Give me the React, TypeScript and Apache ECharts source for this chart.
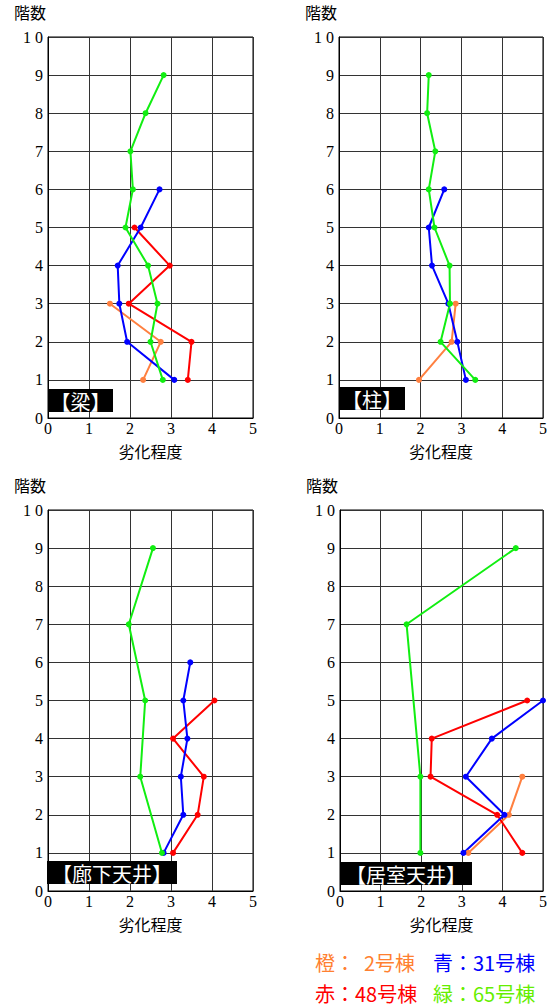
import React, { useEffect, useRef } from "react";
import * as echarts from "echarts";

const floors = [1, 2, 3, 4, 5, 6, 7, 8, 9];
const xTicks = [0, 1, 2, 3, 4, 5];
const panelNames = ["【梁】", "【柱】", "【廊下天井】", "【居室天井】"];
const buildingNames = ["橙：  2号棟", "青：31号棟", "赤：48号棟", "緑：65号棟"];

// values indexed by floor (index 0 = 1階)
const beamOrange = [2.32, 2.75, 1.51];
const beamBlue = [3.08, 1.93, 1.74, 1.70, 2.26, 2.72];
const beamRed = [3.41, 3.50, 1.97, 2.97, 2.11];
const beamGreen = [2.80, 2.50, 2.67, 2.44, 1.89, 2.07, 2.01, 2.38, 2.82];

const columnOrange = [1.96, 2.76, 2.86];
const columnBlue = [3.11, 2.90, 2.68, 2.28, 2.20, 2.58];
const columnRed: (number | null)[] = [];
const columnGreen = [3.34, 2.49, 2.72, 2.71, 2.34, 2.20, 2.36, 2.16, 2.20];

const corridorOrange: (number | null)[] = [];
const corridorBlue = [2.82, 3.30, 3.24, 3.40, 3.30, 3.47];
const corridorRed = [3.05, 3.65, 3.80, 3.05, 4.06];
const corridorGreen = [2.78, null, 2.25, null, 2.37, null, 1.97, null, 2.56];

const roomOrange = [3.16, 4.16, 4.49];
const roomBlue = [3.04, 4.05, 3.10, 3.74, 5.0];
const roomRed = [4.49, 3.87, 2.23, 2.26, 4.61];
const roomGreen = [1.98, null, 1.98, null, null, null, 1.64, null, 4.33];

const panels = [
  [beamOrange, beamBlue, beamRed, beamGreen],
  [columnOrange, columnBlue, columnRed, columnGreen],
  [corridorOrange, corridorBlue, corridorRed, corridorGreen],
  [roomOrange, roomBlue, roomRed, roomGreen],
];

const lineColors = ["#FF8040", "#0000FF", "#FF0000", "#11EE11"];
const legendColors = ["#FF8030", "#0000FF", "#FF0000", "#66EE00"];

const grids = [
  { left: 48, top: 37, width: 205, height: 381 },
  { left: 339, top: 37, width: 204, height: 381 },
  { left: 48, top: 510, width: 205, height: 381 },
  { left: 340, top: 510, width: 203, height: 381 },
];

const boxes = [
  { x: 48, y: 389, w: 65, h: 23 },
  { x: 339, y: 387, w: 66, h: 23 },
  { x: 47, y: 861, w: 130, h: 23 },
  { x: 340, y: 862, w: 132, h: 23 },
];

export default function App() {
  const ref = useRef<HTMLDivElement>(null);
  useEffect(() => {
    document.body.style.margin = "0";
    const chart = echarts.init(ref.current!, null, { renderer: "svg" });
    const serif = "serif";
    const sans = "Noto Sans CJK JP";

    const series: any[] = [];
    panels.forEach((p, pi) => {
      [0, 2, 1, 3].forEach((si) => {
        const vals = p[si];
        if (!vals.length) return;
        const data = floors
          .map((f, i) => (vals[i] == null || vals[i] === undefined ? null : [vals[i], f]))
          .filter((d) => d !== null);
        series.push({
          type: "line",
          xAxisIndex: pi,
          yAxisIndex: pi,
          data,
          symbol: "circle",
          symbolSize: 6,
          clip: false,
          lineStyle: { color: lineColors[si], width: 2 },
          itemStyle: { color: lineColors[si] },
          z: 3,
        });
      });
    });

    const graphic: any[] = [];
    grids.forEach((g, i) => {
      graphic.push({
        type: "text",
        left: g.left - 34,
        top: g.top - 33,
        style: { text: "階数", fontSize: 16, fontFamily: sans, fill: "#000" },
      });
      const b = boxes[i];
      graphic.push({
        type: "rect",
        shape: { x: b.x, y: b.y, width: b.w, height: b.h },
        style: { fill: "#000" },
        z: 10,
      });
      graphic.push({
        type: "text",
        x: b.x + b.w / 2,
        y: b.y + b.h / 2 + 1,
        style: {
          text: panelNames[i],
          fontSize: 20,
          fontFamily: sans,
          fill: "#fff",
          align: "center",
          verticalAlign: "middle",
        },
        z: 11,
      });
    });
    const legendPos = [
      { x: 315, y: 962 },
      { x: 433, y: 962 },
      { x: 315, y: 993 },
      { x: 433, y: 993 },
    ];
    buildingNames.forEach((t, i) => {
      graphic.push({
        type: "text",
        x: legendPos[i].x,
        y: legendPos[i].y,
        style: {
          text: t,
          fontSize: 20,
          fontFamily: sans,
          fill: legendColors[i],
          verticalAlign: "middle",
        },
      });
    });

    chart.setOption({
      animation: false,
      textStyle: { fontFamily: serif },
      grid: grids.map((g) => ({
        ...g,
        show: true,
        borderColor: "#000",
        borderWidth: 1,
        backgroundColor: "#fff",
      })),
      xAxis: grids.map((_, i) => ({
        type: "value",
        gridIndex: i,
        min: 0,
        max: 5,
        interval: 1,
        name: "劣化程度",
        nameLocation: "middle",
        nameGap: 25,
        nameTextStyle: { fontSize: 16, fontFamily: sans, color: "#000" },
        axisLine: { show: true, lineStyle: { color: "#000" } },
        axisTick: { show: false },
        axisLabel: {
          fontSize: 16,
          fontFamily: serif,
          color: "#000",
          margin: 2,
          formatter: (v: number) => (xTicks.includes(v) ? String(v) : ""),
        },
        splitLine: { show: true, lineStyle: { color: "#333", width: 1 } },
      })),
      yAxis: grids.map((_, i) => ({
        type: "value",
        gridIndex: i,
        min: 0,
        max: 10,
        interval: 1,
        axisLine: { show: true, lineStyle: { color: "#000" } },
        axisTick: { show: false },
        axisLabel: {
          fontSize: 16,
          fontFamily: serif,
          color: "#000",
          margin: 5,
          formatter: (v: number) => (v === 10 ? "1 0" : String(v)),
        },
        splitLine: { show: true, lineStyle: { color: "#333", width: 1 } },
      })),
      series,
      graphic,
    });
    return () => chart.dispose();
  }, []);
  return (
    <div
      ref={ref}
      style={{ position: "absolute", left: 0, top: 0, width: 550, height: 1006, background: "#fff" }}
    />
  );
}
